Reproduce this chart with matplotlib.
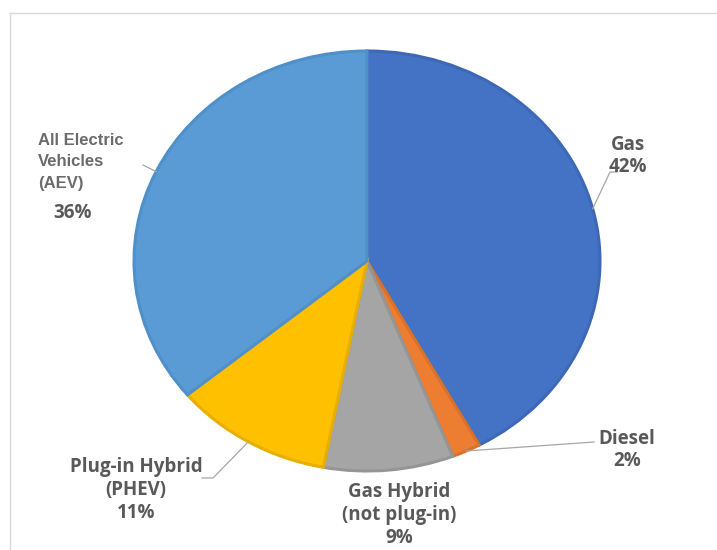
import numpy as np
import matplotlib
matplotlib.use("Agg")
import matplotlib.pyplot as plt
from matplotlib.lines import Line2D

# slice data, clockwise from 12 o'clock
categories = ["Gas", "Diesel", "Gas Hybrid\n(not plug-in)", "Plug-in Hybrid\n(PHEV)", "All Electric\nVehicles\n(AEV)"]
shares = [42, 2, 9, 11, 36]
pct_labels = ["42%", "2%", "9%", "11%", "36%"]

colors = ["#4472C4", "#ED7D31", "#A5A5A5", "#FFC000", "#5B9BD5"]
edges = ["#3D68B5", "#D9712A", "#959595", "#E8AF00", "#5090C8"]
txt = "#595959"

W, H = 717, 550
fig = plt.figure(figsize=(W / 100, H / 100), dpi=100)

# light frame on top and left
fig.add_artist(Line2D([10 / W, 1], [1 - 13 / H, 1 - 13 / H], color="#d9d9d9", lw=1))
fig.add_artist(Line2D([10 / W, 10 / W], [0, 1 - 13 / H], color="#d9d9d9", lw=1))

# the pie is slightly wider than tall
cx, cy, rx, ry = 367, 261, 233, 210
ax = fig.add_axes([(cx - rx) / W, (H - cy - ry) / H, 2 * rx / W, 2 * ry / H])
wedges, _ = ax.pie(shares, colors=colors, startangle=90, counterclock=False,
                   wedgeprops=dict(linewidth=2.2))
for w, ec in zip(wedges, edges):
    w.set_edgecolor(ec)
ax.set_aspect("auto")
ax.set_xlim(-1, 1)
ax.set_ylim(-1, 1)
ax.axis("off")


def px(x, y):
    # pixel position -> data position of the pie axes
    return (x - cx) / rx, (cy - y) / ry


def edge_pt(i):
    cum = np.cumsum([0] + shares)
    mid = 90 - (cum[i] + shares[i] / 2) / sum(shares) * 360
    a = np.deg2rad(mid)
    return np.cos(a), np.sin(a)


def leader(i, pts):
    x0, y0 = edge_pt(i)
    xs = [x0] + [px(*p)[0] for p in pts]
    ys = [y0] + [px(*p)[1] for p in pts]
    ax.add_line(Line2D(xs, ys, color="#a6a6a6", lw=0.9, clip_on=False))


font = dict(family=["Open Sans", "DejaVu Sans"], fontweight="bold", color=txt, fontsize=13.5)
ls = 1.2

# Gas
leader(0, [(610, 172), (617, 172)])
ax.text(*px(628, 156), categories[0] + "\n" + pct_labels[0], ha="center", va="center",
        linespacing=ls, **font)
# Diesel
leader(1, [(594, 442)])
ax.text(*px(627, 450), categories[1] + "\n" + pct_labels[1], ha="center", va="center",
        linespacing=ls, **font)
# Gas Hybrid
ax.text(*px(399, 515), categories[2] + "\n" + pct_labels[2], ha="center", va="center",
        linespacing=ls, **font)
# PHEV
leader(3, [(213, 478), (202, 478)])
ax.text(*px(136, 490), categories[3] + "\n" + pct_labels[3], ha="center", va="center",
        linespacing=ls, **font)
# AEV
leader(4, [(143, 165)])
ax.text(*px(38, 162), categories[4], ha="left", va="center", linespacing=1.55,
        family=["Liberation Sans", "DejaVu Sans"], fontweight="bold", color="#6b6b6b", fontsize=12)
ax.text(*px(73, 213), pct_labels[4], ha="center", va="center", **font)

fig.savefig("out.png", dpi=100, facecolor="white")
